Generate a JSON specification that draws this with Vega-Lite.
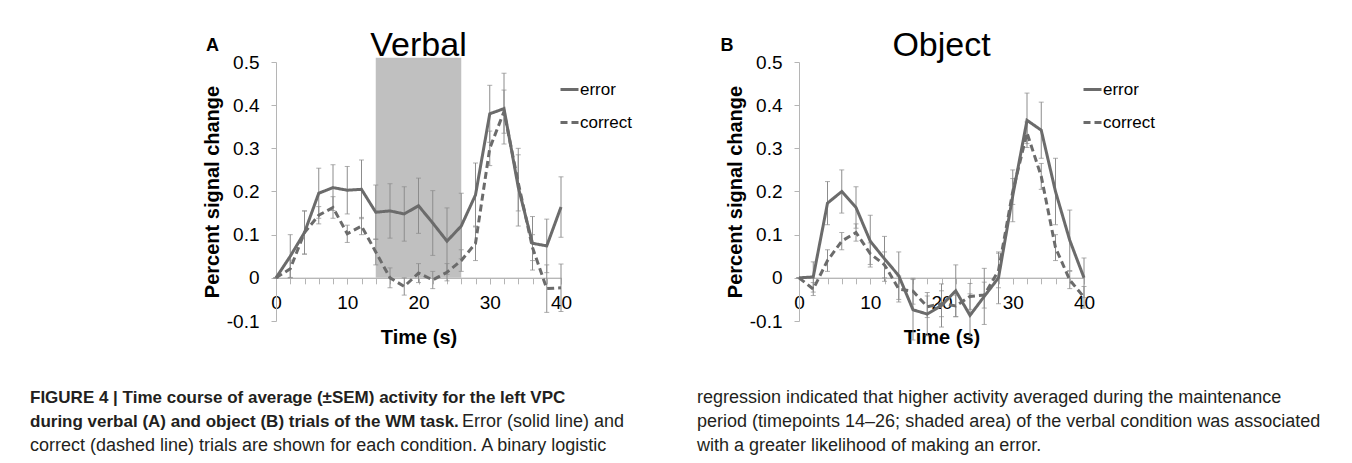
{
  "$schema": "https://vega.github.io/schema/vega-lite/v6.json",
  "background": "white",
  "autosize": {"type": "pad"},
  "padding": {"left": 30, "top": 28, "right": 0, "bottom": 0},
  "config": {
    "view": {"stroke": null},
    "font": "Liberation Sans",
    "axis": {"labelFont": "Liberation Sans", "titleFont": "Liberation Sans", "labelColor": "#000000", "titleColor": "#000000", "domainColor": "#b5b5b5", "tickColor": "#b5b5b5", "grid": false},
    "text": {"font": "Liberation Sans"}
  },
  "datasets": {
    "verbal": [
      {"t": 0, "series": "error", "mean": 0.0, "sem": 0.0},
      {"t": 2, "series": "error", "mean": 0.05, "sem": 0.05},
      {"t": 4, "series": "error", "mean": 0.105, "sem": 0.05},
      {"t": 6, "series": "error", "mean": 0.196, "sem": 0.058},
      {"t": 8, "series": "error", "mean": 0.209, "sem": 0.053},
      {"t": 10, "series": "error", "mean": 0.203, "sem": 0.055},
      {"t": 12, "series": "error", "mean": 0.205, "sem": 0.068},
      {"t": 14, "series": "error", "mean": 0.152, "sem": 0.063},
      {"t": 16, "series": "error", "mean": 0.155, "sem": 0.063},
      {"t": 18, "series": "error", "mean": 0.148, "sem": 0.063},
      {"t": 20, "series": "error", "mean": 0.167, "sem": 0.064},
      {"t": 22, "series": "error", "mean": 0.127, "sem": 0.075},
      {"t": 24, "series": "error", "mean": 0.085, "sem": 0.077},
      {"t": 26, "series": "error", "mean": 0.12, "sem": 0.076},
      {"t": 28, "series": "error", "mean": 0.192, "sem": 0.074},
      {"t": 30, "series": "error", "mean": 0.38, "sem": 0.066},
      {"t": 32, "series": "error", "mean": 0.392, "sem": 0.082},
      {"t": 34, "series": "error", "mean": 0.21, "sem": 0.09},
      {"t": 36, "series": "error", "mean": 0.08, "sem": 0.062},
      {"t": 38, "series": "error", "mean": 0.074, "sem": 0.062},
      {"t": 40, "series": "error", "mean": 0.164, "sem": 0.07},
      {"t": 0, "series": "correct", "mean": 0.0, "sem": 0.0},
      {"t": 2, "series": "correct", "mean": 0.021, "sem": 0.02},
      {"t": 4, "series": "correct", "mean": 0.105, "sem": 0.05},
      {"t": 6, "series": "correct", "mean": 0.145, "sem": 0.02},
      {"t": 8, "series": "correct", "mean": 0.163, "sem": 0.025},
      {"t": 10, "series": "correct", "mean": 0.102, "sem": 0.02},
      {"t": 12, "series": "correct", "mean": 0.12, "sem": 0.02},
      {"t": 14, "series": "correct", "mean": 0.06, "sem": 0.03},
      {"t": 16, "series": "correct", "mean": 0.0, "sem": 0.023},
      {"t": 18, "series": "correct", "mean": -0.02, "sem": 0.02},
      {"t": 20, "series": "correct", "mean": 0.011, "sem": 0.022},
      {"t": 22, "series": "correct", "mean": -0.005, "sem": 0.02},
      {"t": 24, "series": "correct", "mean": 0.013, "sem": 0.02},
      {"t": 26, "series": "correct", "mean": 0.04, "sem": 0.025},
      {"t": 28, "series": "correct", "mean": 0.08, "sem": 0.04},
      {"t": 30, "series": "correct", "mean": 0.3, "sem": 0.04},
      {"t": 32, "series": "correct", "mean": 0.385, "sem": 0.05},
      {"t": 34, "series": "correct", "mean": 0.22, "sem": 0.065},
      {"t": 36, "series": "correct", "mean": 0.07, "sem": 0.03},
      {"t": 38, "series": "correct", "mean": -0.025, "sem": 0.055},
      {"t": 40, "series": "correct", "mean": -0.023, "sem": 0.055}
    ],
    "object": [
      {"t": 0, "series": "error", "mean": 0.0, "sem": 0.0},
      {"t": 2, "series": "error", "mean": 0.002, "sem": 0.035},
      {"t": 4, "series": "error", "mean": 0.173, "sem": 0.05},
      {"t": 6, "series": "error", "mean": 0.2, "sem": 0.05},
      {"t": 8, "series": "error", "mean": 0.163, "sem": 0.048},
      {"t": 10, "series": "error", "mean": 0.085, "sem": 0.06},
      {"t": 12, "series": "error", "mean": 0.044, "sem": 0.052},
      {"t": 14, "series": "error", "mean": 0.005, "sem": 0.055},
      {"t": 16, "series": "error", "mean": -0.074, "sem": 0.07},
      {"t": 18, "series": "error", "mean": -0.084, "sem": 0.05},
      {"t": 20, "series": "error", "mean": -0.064, "sem": 0.05},
      {"t": 22, "series": "error", "mean": -0.03, "sem": 0.06},
      {"t": 24, "series": "error", "mean": -0.087, "sem": 0.05},
      {"t": 26, "series": "error", "mean": -0.043, "sem": 0.065},
      {"t": 28, "series": "error", "mean": 0.0, "sem": 0.06},
      {"t": 30, "series": "error", "mean": 0.19, "sem": 0.06},
      {"t": 32, "series": "error", "mean": 0.365, "sem": 0.063},
      {"t": 34, "series": "error", "mean": 0.342, "sem": 0.065},
      {"t": 36, "series": "error", "mean": 0.2, "sem": 0.077},
      {"t": 38, "series": "error", "mean": 0.087, "sem": 0.07},
      {"t": 40, "series": "error", "mean": 0.0, "sem": 0.046},
      {"t": 0, "series": "correct", "mean": 0.0, "sem": 0.0},
      {"t": 2, "series": "correct", "mean": -0.026, "sem": 0.015},
      {"t": 4, "series": "correct", "mean": 0.04, "sem": 0.025},
      {"t": 6, "series": "correct", "mean": 0.085, "sem": 0.02},
      {"t": 8, "series": "correct", "mean": 0.105, "sem": 0.02},
      {"t": 10, "series": "correct", "mean": 0.056, "sem": 0.025},
      {"t": 12, "series": "correct", "mean": 0.03, "sem": 0.03},
      {"t": 14, "series": "correct", "mean": -0.026, "sem": 0.03},
      {"t": 16, "series": "correct", "mean": -0.031, "sem": 0.03},
      {"t": 18, "series": "correct", "mean": -0.067, "sem": 0.025},
      {"t": 20, "series": "correct", "mean": -0.06, "sem": 0.03},
      {"t": 22, "series": "correct", "mean": -0.065, "sem": 0.025},
      {"t": 24, "series": "correct", "mean": -0.043, "sem": 0.03},
      {"t": 26, "series": "correct", "mean": -0.04, "sem": 0.03},
      {"t": 28, "series": "correct", "mean": 0.017, "sem": 0.04},
      {"t": 30, "series": "correct", "mean": 0.2, "sem": 0.03},
      {"t": 32, "series": "correct", "mean": 0.336, "sem": 0.025},
      {"t": 34, "series": "correct", "mean": 0.235, "sem": 0.03},
      {"t": 36, "series": "correct", "mean": 0.07, "sem": 0.03},
      {"t": 38, "series": "correct", "mean": -0.005, "sem": 0.02},
      {"t": 40, "series": "correct", "mean": -0.045, "sem": 0.025}
    ]
  },
  "vconcat": [
    {
      "hconcat": [
        {
          "width": 285,
          "height": 259,
          "resolve": {"axis": {"x": "independent"}},
          "layer": [
            {
              "data": {"values": [{"start": 14, "end": 26, "bottom": 0, "top": 0.51}]},
              "mark": {"type": "rect", "color": "#c0c0c0"},
              "encoding": {
                "x": {"field": "start", "type": "quantitative", "axis": null, "scale": {"domain": [0, 40], "nice": false}},
                "x2": {"field": "end"},
                "y": {"field": "bottom", "type": "quantitative", "title": "Percent signal change", "scale": {"domain": [-0.1, 0.5], "nice": false}},
                "y2": {"field": "top"}
              }
            },
            {
              "data": {"name": "verbal"},
              "mark": {"type": "errorbar", "color": "#8c8c8c", "thickness": 1, "ticks": {"size": 5, "color": "#8c8c8c"}},
              "encoding": {
                "x": {"field": "t", "type": "quantitative", "axis": {"orient": "bottom", "values": [0, 2, 4, 6, 8, 10, 12, 14, 16, 18, 20, 22, 24, 26, 28, 30, 32, 34, 36, 38, 40], "labels": false, "title": null, "offset": -43.2, "tickSize": 6, "domain": true}},
                "y": {"field": "mean", "type": "quantitative", "title": "Percent signal change"},
                "yError": {"field": "sem"}
              }
            },
            {
              "data": {"name": "verbal"},
              "mark": {"type": "line", "color": "#6b6b6b", "strokeWidth": 3},
              "encoding": {
                "x": {"field": "t", "type": "quantitative", "title": "Time (s)",
                  "axis": {"orient": "bottom", "values": [0, 10, 20, 30, 40], "labelFlush": false, "labelOverlap": false, "offset": -43.2, "tickSize": 6, "labelFontSize": 19, "labelPadding": 10, "titleFontSize": 20, "titleFontWeight": "bold", "titlePadding": 15}},
                "y": {"field": "mean", "type": "quantitative", "title": "Percent signal change",
                  "axis": {"values": [-0.1, 0, 0.1, 0.2, 0.3, 0.4, 0.5], "labelExpr": "datum.value == 0 ? '0' : (datum.value < 0 ? '-' + format(-datum.value, '.1f') : format(datum.value, '.1f'))", "tickSize": 5, "labelFontSize": 19, "labelPadding": 12, "titleFontSize": 20, "titleFontWeight": "bold", "titlePadding": 4}},
                "strokeDash": {"field": "series", "type": "nominal",
                  "scale": {"domain": ["error", "correct"], "range": [[1, 0], [7, 4]]},
                  "legend": {"title": null, "orient": "none", "legendX": 283, "legendY": 17, "padding": 0, "symbolType": "stroke", "symbolStrokeWidth": 3, "symbolSize": 324, "symbolStrokeColor": "#6b6b6b", "labelFontSize": 17, "labelFont": "Liberation Sans", "labelColor": "#000000", "labelOffset": 0, "rowPadding": 14}}
              }
            },
            {
              "data": {"values": [{"label": "A"}]},
              "mark": {"type": "text", "fontSize": 18, "fontWeight": "bold", "align": "center", "baseline": "alphabetic", "color": "#000000"},
              "encoding": {
                "x": {"datum": -8.9, "axis": null},
                "y": {"datum": 0.525},
                "text": {"field": "label"}
              }
            },
            {
              "data": {"values": [{"panel": "Verbal"}]},
              "mark": {"type": "text", "fontSize": 34, "align": "center", "baseline": "alphabetic", "color": "#000000"},
              "encoding": {
                "x": {"datum": 20, "axis": null},
                "y": {"datum": 0.514},
                "text": {"field": "panel"}
              }
            }
          ]
        },
        {
          "width": 285,
          "height": 259,
          "resolve": {"axis": {"x": "independent"}},
          "layer": [
            {
              "data": {"name": "object"},
              "mark": {"type": "errorbar", "color": "#8c8c8c", "thickness": 1, "ticks": {"size": 5, "color": "#8c8c8c"}},
              "encoding": {
                "x": {"field": "t", "type": "quantitative", "scale": {"domain": [0, 40], "nice": false}, "axis": {"orient": "bottom", "values": [0, 2, 4, 6, 8, 10, 12, 14, 16, 18, 20, 22, 24, 26, 28, 30, 32, 34, 36, 38, 40], "labels": false, "title": null, "offset": -43.2, "tickSize": 6, "domain": true}},
                "y": {"field": "mean", "type": "quantitative", "title": "Percent signal change", "scale": {"domain": [-0.1, 0.5], "nice": false}},
                "yError": {"field": "sem"}
              }
            },
            {
              "data": {"name": "object"},
              "mark": {"type": "line", "color": "#6b6b6b", "strokeWidth": 3},
              "encoding": {
                "x": {"field": "t", "type": "quantitative", "title": "Time (s)",
                  "axis": {"orient": "bottom", "values": [0, 10, 20, 30, 40], "labelFlush": false, "labelOverlap": false, "offset": -43.2, "tickSize": 6, "labelFontSize": 19, "labelPadding": 10, "titleFontSize": 20, "titleFontWeight": "bold", "titlePadding": 15}},
                "y": {"field": "mean", "type": "quantitative", "title": "Percent signal change",
                  "axis": {"values": [-0.1, 0, 0.1, 0.2, 0.3, 0.4, 0.5], "labelExpr": "datum.value == 0 ? '0' : (datum.value < 0 ? '-' + format(-datum.value, '.1f') : format(datum.value, '.1f'))", "tickSize": 5, "labelFontSize": 19, "labelPadding": 12, "titleFontSize": 20, "titleFontWeight": "bold", "titlePadding": 4}},
                "strokeDash": {"field": "series", "type": "nominal",
                  "scale": {"domain": ["error", "correct"], "range": [[1, 0], [7, 4]]},
                  "legend": {"title": null, "orient": "none", "legendX": 283, "legendY": 17, "padding": 0, "symbolType": "stroke", "symbolStrokeWidth": 3, "symbolSize": 324, "symbolStrokeColor": "#6b6b6b", "labelFontSize": 17, "labelFont": "Liberation Sans", "labelColor": "#000000", "labelOffset": 0, "rowPadding": 14}}
              }
            },
            {
              "data": {"values": [{"label": "B"}]},
              "mark": {"type": "text", "fontSize": 18, "fontWeight": "bold", "align": "center", "baseline": "alphabetic", "color": "#000000"},
              "encoding": {
                "x": {"datum": -10.1, "axis": null},
                "y": {"datum": 0.525},
                "text": {"field": "label"}
              }
            },
            {
              "data": {"values": [{"panel": "Object"}]},
              "mark": {"type": "text", "fontSize": 34, "align": "center", "baseline": "alphabetic", "color": "#000000"},
              "encoding": {
                "x": {"datum": 20, "axis": null},
                "y": {"datum": 0.514},
                "text": {"field": "panel"}
              }
            }
          ]
        }
      ],
      "spacing": 238,
      "bounds": "flush",
      "resolve": {"scale": {"strokeDash": "independent"}, "legend": {"strokeDash": "independent"}}
    },
    {
      "hconcat": [
        {
          "width": 418,
          "height": 72,
          "data": {"values": [
            {"line": 1, "side": "start", "weight": "bold", "text": "FIGURE 4 | Time course of average (±SEM) activity for the left VPC"},
            {"line": 2, "side": "start", "weight": "bold", "text": "during verbal (A) and object (B) trials of the WM task."},
            {"line": 2, "side": "end", "weight": "normal", "text": "Error (solid line) and"},
            {"line": 3, "side": "start", "weight": "normal", "text": "correct (dashed line) trials are shown for each condition. A binary logistic"}
          ]},
          "layer": [
            {"transform": [{"filter": "datum.weight === 'bold'"}], "mark": {"type": "text", "align": "left", "baseline": "middle", "fontWeight": "bold", "fontSize": 17, "color": "#231f20"},
             "encoding": {"y": {"field": "line", "type": "ordinal", "axis": null, "scale": {"domain": [1, 2, 3]}}, "x": {"field": "side", "type": "nominal", "axis": null, "scale": {"type": "point", "domain": ["start", "end"], "range": [-246, 348], "padding": 0}}, "text": {"field": "text"}}},
            {"transform": [{"filter": "datum.weight === 'normal' && datum.side === 'start'"}], "mark": {"type": "text", "align": "left", "baseline": "middle", "fontSize": 18, "color": "#231f20"},
             "encoding": {"y": {"field": "line", "type": "ordinal", "axis": null}, "x": {"field": "side", "type": "nominal", "axis": null}, "text": {"field": "text"}}},
            {"transform": [{"filter": "datum.weight === 'normal' && datum.side === 'end'"}], "mark": {"type": "text", "align": "right", "baseline": "middle", "fontSize": 18, "color": "#231f20"},
             "encoding": {"y": {"field": "line", "type": "ordinal", "axis": null}, "x": {"field": "side", "type": "nominal", "axis": null}, "text": {"field": "text"}}}
          ]
        },
        {
          "width": 625,
          "height": 72,
          "data": {"values": [
            {"line": 1, "side": "start", "text": "regression indicated that higher activity averaged during the maintenance"},
            {"line": 2, "side": "start", "text": "period (timepoints 14–26; shaded area) of the verbal condition was associated"},
            {"line": 3, "side": "start", "text": "with a greater likelihood of making an error."}
          ]},
          "mark": {"type": "text", "align": "left", "baseline": "middle", "fontSize": 18, "color": "#231f20"},
          "encoding": {
            "y": {"field": "line", "type": "ordinal", "axis": null, "scale": {"domain": [1, 2, 3]}},
            "x": {"field": "side", "type": "nominal", "axis": null, "scale": {"type": "point", "domain": ["start", "end"], "padding": 0}},
            "text": {"field": "text"}
          }
        }
      ],
      "spacing": 3,
      "bounds": "flush"
    }
  ],
  "spacing": 38
}
